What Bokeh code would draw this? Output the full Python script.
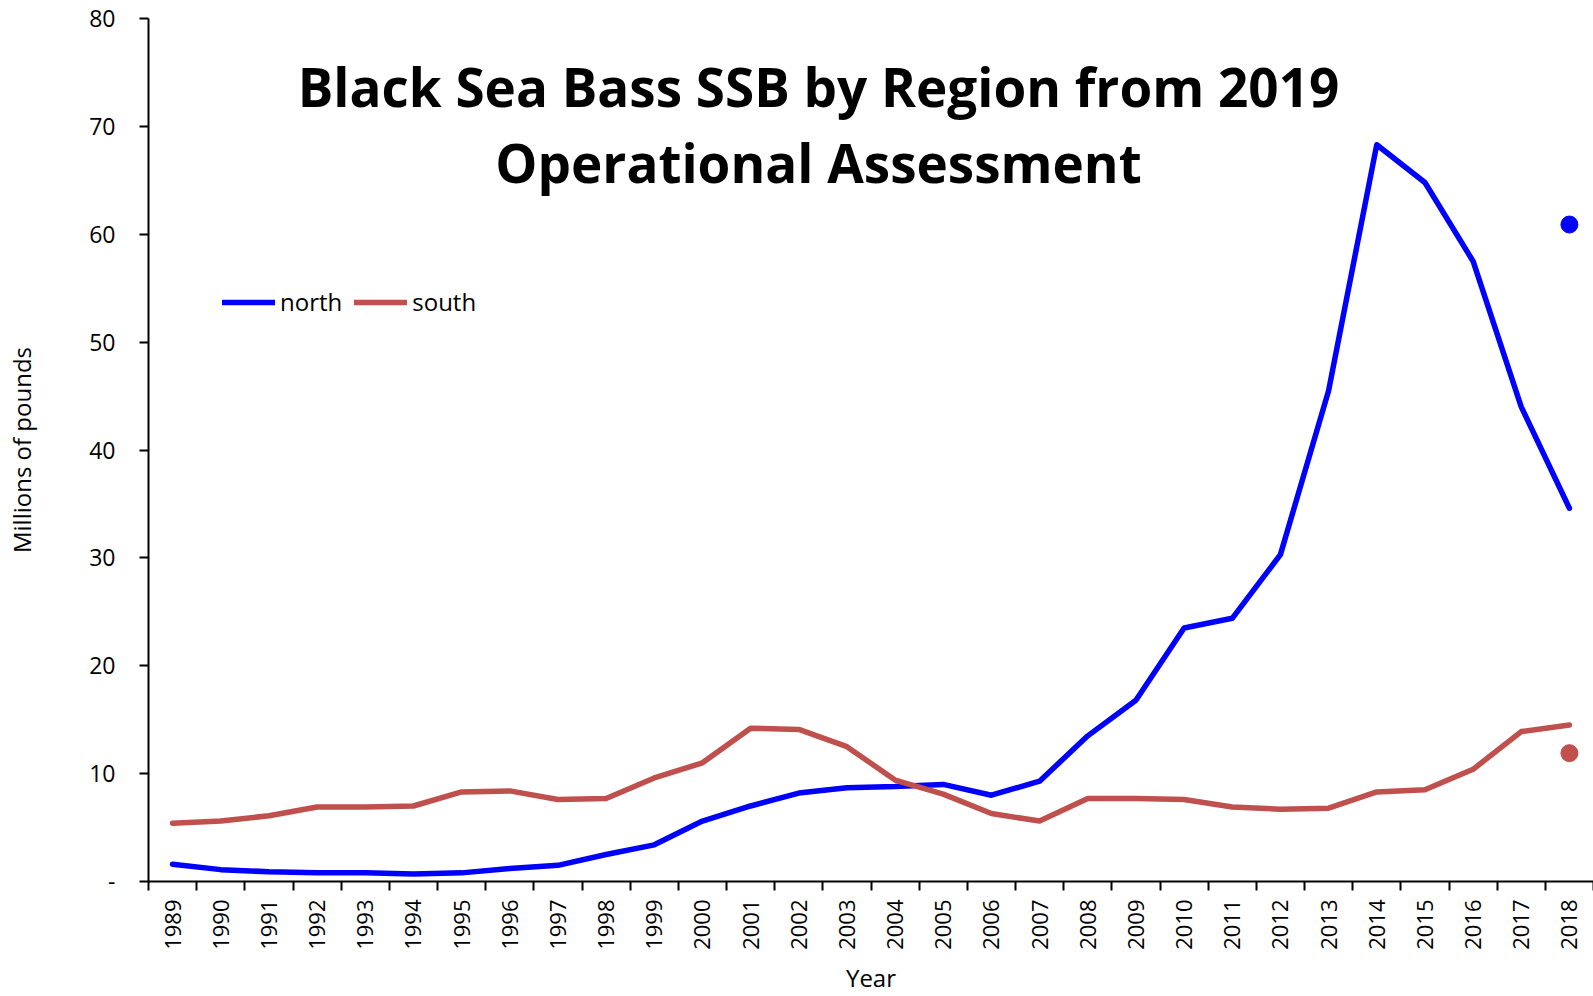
from bokeh.plotting import figure
from bokeh.models import Range1d, FixedTicker, Label, Legend, LegendItem, ColumnDataSource
from bokeh.embed import file_html
from bokeh.resources import INLINE
import math

years = list(range(1989, 2019))
north = [1.6, 1.1, 0.9, 0.8, 0.8, 0.7, 0.8, 1.2, 1.5, 2.5, 3.4, 5.6, 7.0, 8.2, 8.7, 8.8, 9.0, 8.0, 9.3,
         13.5, 16.8, 23.5, 24.4, 30.3, 45.5, 68.3, 64.8, 57.5, 44.0, 34.6]
south = [5.4, 5.6, 6.1, 6.9, 6.9, 7.0, 8.3, 8.4, 7.6, 7.7, 9.6, 11.0, 14.2, 14.1, 12.5, 9.4, 8.1, 6.3, 5.6,
         7.7, 7.7, 7.6, 6.9, 6.7, 6.8, 8.3, 8.5, 10.4, 13.9, 14.5]
point_year = 2018
north_2019_point = 60.9
south_2019_point = 11.9
y_ticks = [0, 10, 20, 30, 40, 50, 60, 70, 80]
y_tick_labels = ["-", "10", "20", "30", "40", "50", "60", "70", "80"]

FONT = "Open Sans"
BLUE = "#0000FF"
RED = "#C0504D"

xpos = [i + 0.5 for i in range(len(years))]
src = ColumnDataSource(dict(x=xpos, north=north, south=south))

p = figure(width=1593, height=996, output_backend="svg", toolbar_location=None,
           x_range=Range1d(0, len(years)), y_range=Range1d(0, 80),
           min_border_left=148, min_border_right=0, min_border_top=18, min_border_bottom=114)
p.outline_line_color = None
p.grid.visible = False
p.background_fill_color = "white"

rn = p.line("x", "north", source=src, line_color=BLUE, line_width=5.5, line_cap="round", line_join="round")
rs = p.line("x", "south", source=src, line_color=RED, line_width=5.5, line_cap="round", line_join="round")
px = years.index(point_year) + 0.5
p.scatter([px], [north_2019_point], size=17, color=BLUE)
p.scatter([px], [south_2019_point], size=17, color=RED)

# x axis
xa = p.xaxis[0]
xa.ticker = FixedTicker(ticks=xpos, minor_ticks=list(range(len(years) + 1)))
xa.major_label_overrides = {x: str(y) for x, y in zip(xpos, years)}
xa.major_label_orientation = math.pi / 2
xa.major_tick_out = 0
xa.major_tick_in = 0
xa.minor_tick_out = 9
xa.minor_tick_in = 0
xa.minor_tick_line_color = "black"
xa.minor_tick_line_width = 2
xa.axis_line_width = 2
xa.major_label_text_font = FONT
xa.major_label_text_font_size = "22px"
xa.major_label_text_color = "black"
xa.major_label_standoff = 9
xa.axis_label = "Year"
xa.axis_label_text_font = FONT
xa.axis_label_text_font_size = "24px"
xa.axis_label_text_font_style = "normal"
xa.axis_label_text_color = "black"
xa.axis_label_standoff = 8

ya = p.yaxis[0]
ya.ticker = FixedTicker(ticks=y_ticks)
ya.major_label_overrides = {t: l for t, l in zip(y_ticks, y_tick_labels)}
ya.minor_tick_line_color = None
ya.major_tick_out = 9
ya.major_tick_in = 0
ya.major_tick_line_width = 2
ya.axis_line_width = 2
ya.major_label_text_font = FONT
ya.major_label_text_font_size = "23px"
ya.major_label_text_color = "black"
ya.major_label_standoff = 24
ya.axis_label = "Millions of pounds"
ya.axis_label_text_font = FONT
ya.axis_label_text_font_size = "24px"
ya.axis_label_text_font_style = "normal"
ya.axis_label_text_color = "black"
ya.axis_label_standoff = 48

legend = Legend(items=[LegendItem(label="north", renderers=[rn]), LegendItem(label="south", renderers=[rs])],
                orientation="horizontal", location=(74, 563), padding=0, margin=0, spacing=12,
                label_standoff=5, glyph_width=53, glyph_height=24,
                label_text_font=FONT, label_text_font_size="24px", label_text_color="black",
                border_line_color=None, background_fill_alpha=0)
p.add_layout(legend)

for txt, yy in [("Black Sea Bass SSB by Region from 2019", 882 - 87), ("Operational Assessment", 882 - 163)]:
    p.add_layout(Label(x=818 - 148, y=yy, x_units="screen", y_units="screen", text=txt,
                       text_font=FONT, text_font_style="bold", text_font_size="53px",
                       text_align="center", text_baseline="middle", text_color="black"))

open("out.html", "w").write(file_html(p, INLINE))
